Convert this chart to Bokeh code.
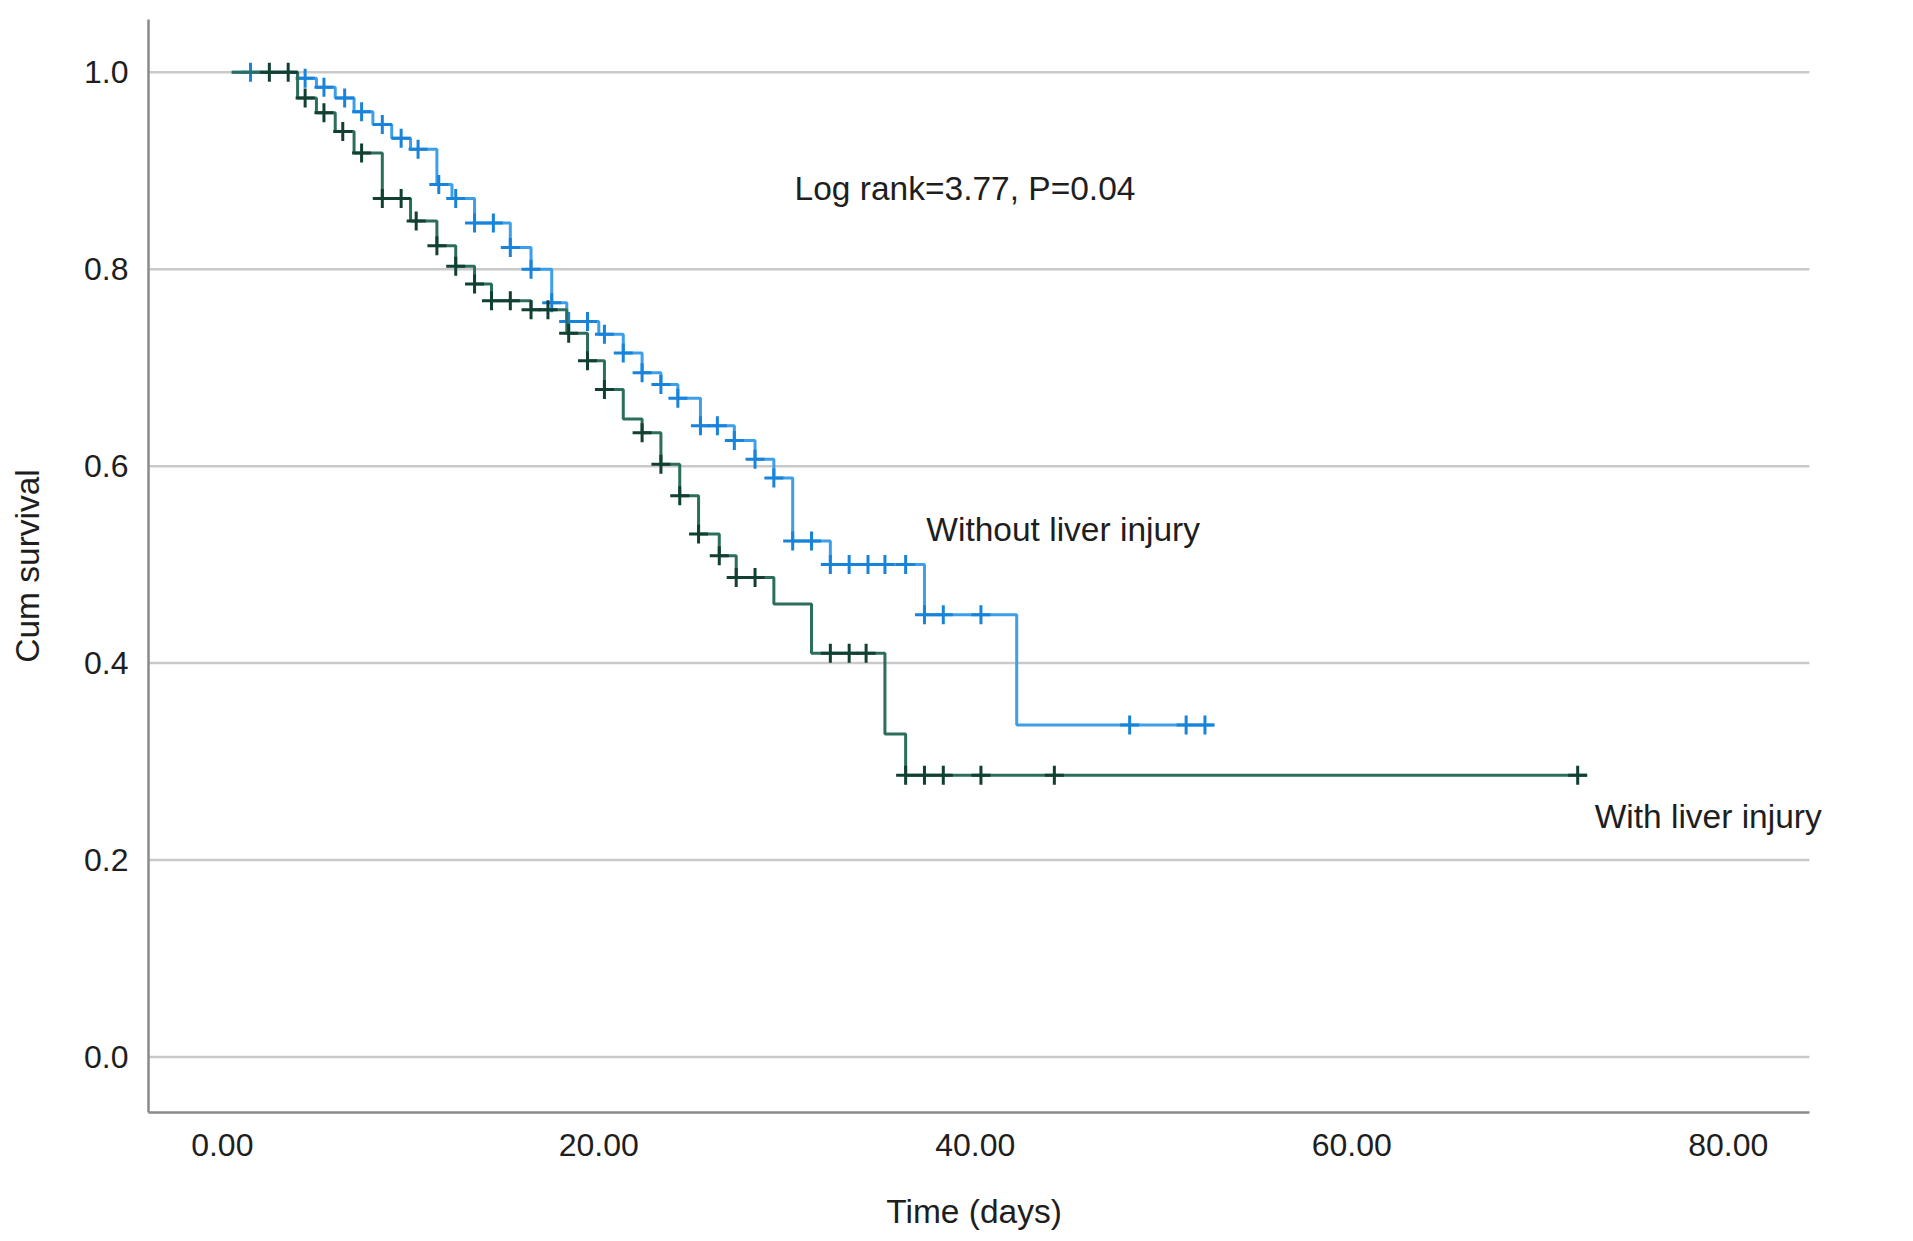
from bokeh.plotting import figure
from bokeh.models import Range1d, FixedTicker, PrintfTickFormatter, Label
from bokeh.embed import file_html
from bokeh.resources import INLINE

# ---------------- data ----------------
# Without liver injury: step times and survival after each step
without_times = [0.5, 4.0, 5.0, 6.0, 7.0, 8.0, 9.0, 10.0, 11.4, 12.2, 13.4, 15.3, 16.4,
                 17.5, 18.3, 20.0, 21.3, 22.3, 23.3, 24.2, 25.4, 27.2, 28.3, 29.3,
                 30.3, 32.3, 37.3, 42.2]
without_surv = [1.0, 0.994, 0.985, 0.974, 0.960, 0.947, 0.933, 0.922, 0.886, 0.872, 0.847,
                0.822, 0.800, 0.766, 0.747, 0.734, 0.715, 0.695, 0.683, 0.669, 0.641,
                0.626, 0.607, 0.588, 0.524, 0.500, 0.449, 0.337]
without_end = 52.7
without_censored = [1.5, 4.4, 5.4, 6.5, 7.4, 8.5, 9.5, 10.4, 11.5, 12.4, 13.4, 14.4, 15.3,
                    16.4, 17.5, 18.4, 19.4, 20.3, 21.3, 22.3, 23.3, 24.2, 25.4, 26.3,
                    27.2, 28.3, 29.3, 30.3, 31.3, 32.3, 33.3, 34.3, 35.2, 36.3, 37.3,
                    38.3, 40.3, 48.2, 51.2, 52.2]

# With liver injury
with_times = [0.5, 4.0, 5.0, 6.0, 7.0, 8.5, 10.0, 11.4, 12.4, 13.4, 14.3, 16.4, 18.3,
              19.4, 20.3, 21.3, 22.3, 23.3, 24.3, 25.3, 26.4, 27.3, 29.3, 31.3, 35.2, 36.3]
with_surv = [1.0, 0.974, 0.959, 0.940, 0.918, 0.872, 0.849, 0.824, 0.803, 0.785, 0.768,
             0.759, 0.735, 0.707, 0.678, 0.648, 0.634, 0.602, 0.570, 0.531, 0.509, 0.487,
             0.460, 0.410, 0.328, 0.286]
with_end = 72.5
with_censored = [2.5, 3.5, 4.4, 5.4, 6.4, 7.4, 8.5, 9.5, 10.3, 11.4, 12.4, 13.4, 14.3,
                 15.3, 16.4, 17.3, 18.4, 19.4, 20.3, 22.3, 23.3, 24.3, 25.3, 26.4, 27.3,
                 28.3, 32.3, 33.3, 34.2, 36.3, 37.3, 38.3, 40.3, 44.2, 72.0]

x_ticks = [0, 20, 40, 60, 80]
y_ticks = [0.0, 0.2, 0.4, 0.6, 0.8, 1.0]

stat_text = "Log rank=3.77, P=0.04"
label_without = "Without liver injury"
label_with = "With liver injury"
x_title = "Time (days)"
y_title = "Cum survival"

X_START, X_AXIS_END, X_VIEW_END = -3.92, 84.31, 85.27
Y_START, Y_END = -0.0565, 1.0537

# ---------------- helpers ----------------
def surv_at(t, times, surv):
    v = surv[0]
    for ti, si in zip(times, surv):
        if ti <= t + 1e-9:
            v = si
    return v

FONT = "Liberation Sans"
TEXT = "#1e1e1e"

p = figure(frame_width=1679, frame_height=1093, output_backend="svg", toolbar_location=None,
           x_range=Range1d(X_START, X_VIEW_END), y_range=Range1d(Y_START, Y_END),
           min_border_left=148, min_border_right=70, min_border_top=19,
           min_border_bottom=110)
p.outline_line_color = None
p.background_fill_color = "white"
p.border_fill_color = "white"

# grid (drawn as segments so they stop where the axis stops)
p.xgrid.grid_line_color = None
p.ygrid.grid_line_color = None
p.segment(x0=[X_START] * len(y_ticks), x1=[X_AXIS_END] * len(y_ticks),
          y0=y_ticks, y1=y_ticks, line_color="#c9c9c9", line_width=2.5)

# axes
p.xaxis.ticker = FixedTicker(ticks=x_ticks)
p.yaxis.ticker = FixedTicker(ticks=y_ticks)
p.xaxis.bounds = (X_START, X_AXIS_END)
p.xaxis.formatter = PrintfTickFormatter(format="%.2f")
p.yaxis.formatter = PrintfTickFormatter(format="%.1f")
for ax in (p.xaxis, p.yaxis):
    ax.axis_line_color = "#8a8a8a"
    ax.axis_line_width = 2.5
    ax.major_tick_line_color = None
    ax.minor_tick_line_color = None
    ax.major_label_text_font = FONT
    ax.major_label_text_font_size = "32px"
    ax.major_label_text_color = TEXT
    ax.axis_label_text_font = FONT
    ax.axis_label_text_font_size = "33.5px"
    ax.axis_label_text_font_style = "normal"
    ax.axis_label_text_color = TEXT
p.xaxis.major_label_standoff = 15
p.yaxis.major_label_standoff = 14
# trailing no-break spaces keep the label centred under the axis line, not the wider frame
p.xaxis.axis_label = x_title + "\u00a0" * 3
p.yaxis.axis_label = y_title
p.xaxis.axis_label_standoff = 34
p.yaxis.axis_label_standoff = 35

# curves
groups = [
    (without_times, without_surv, without_end, without_censored, "#3d9fe9", "#1783da"),
    (with_times, with_surv, with_end, with_censored, "#2b6e5c", "#113f32"),
]
for times, surv, end, cens, lc, mc in groups:
    xs = list(times) + [end]
    ys = list(surv) + [surv[-1]]
    p.step(xs, ys, mode="after", line_color=lc, line_width=3)
    cy = [surv_at(t, times, surv) for t in cens]
    p.scatter(cens, cy, marker="cross", size=19, line_color=mc, line_width=3)

# annotations
for txt, x, y in [(stat_text, 30.4, 0.882), (label_without, 37.4, 0.536), (label_with, 72.9, 0.244)]:
    p.add_layout(Label(x=x, y=y, text=txt, text_font=FONT, text_font_size="33.5px",
                       text_color=TEXT, text_baseline="middle", text_align="left"))

open("out.html", "w").write(file_html(p, INLINE))
